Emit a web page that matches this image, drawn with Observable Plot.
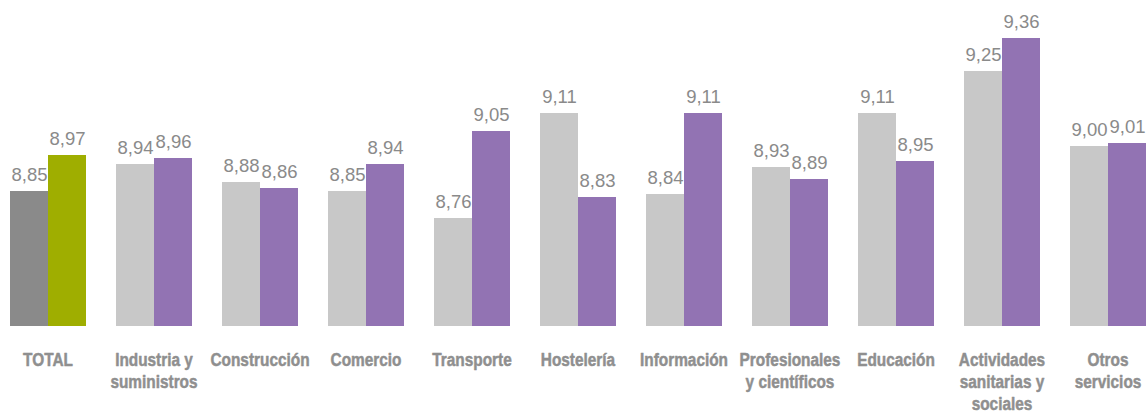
<!DOCTYPE html>
<html>
<head>
<meta charset="utf-8">
<script src="https://cdn.jsdelivr.net/npm/d3@7"></script>
<script src="https://cdn.jsdelivr.net/npm/@observablehq/plot@0.6"></script>
<style>
  html, body { margin: 0; padding: 0; background: #ffffff; }
  #chart svg { display: block; }
</style>
</head>
<body>
<div id="chart"></div>
<script>
const categories = ["TOTAL", "Industria y suministros", "Construcción", "Comercio", "Transporte", "Hostelería", "Información", "Profesionales y científicos", "Educación", "Actividades sanitarias y sociales", "Otros servicios"];
const categoryLabels = ["TOTAL", "Industria y\nsuministros", "Construcción", "Comercio", "Transporte", "Hostelería", "Información", "Profesionales\ny científicos", "Educación", "Actividades\nsanitarias y\nsociales", "Otros\nservicios"];
const seriesNames = ["A", "B"];
const valuesA = [8.85, 8.94, 8.88, 8.85, 8.76, 9.11, 8.84, 8.93, 9.11, 9.25, 9.00];
const valuesB = [8.97, 8.96, 8.86, 8.94, 9.05, 8.83, 9.11, 8.89, 8.95, 9.36, 9.01];
const colorKeys = ["totalA", "totalB", "A", "B"];
const colorValues = ["#8a8a8a", "#9fae00", "#c8c8c8", "#9273b3"];

const rows = [];
categories.forEach((c, i) => {
  const isTotal = c === "TOTAL";
  rows.push({cat: c, series: "A", value: valuesA[i], key: isTotal ? "totalA" : "A"});
  rows.push({cat: c, series: "B", value: valuesB[i], key: isTotal ? "totalB" : "B"});
});
const labelRows = categories.map((c, i) => ({cat: c, label: categoryLabels[i]}));

const fmt = d3.formatLocale({decimal: ",", thousands: ".", grouping: [3], currency: ["", "€"]}).format(".2f");

const chart = Plot.plot({
  width: 1146,
  height: 414,
  marginLeft: 9,
  marginRight: 0,
  marginTop: 0,
  marginBottom: 0,
  fx: {domain: categories, paddingInner: 0.274, paddingOuter: 0, axis: null},
  x: {domain: seriesNames, padding: 0, axis: null},
  y: {domain: [8.4, 9.36], range: [326, 38], axis: null},
  color: {domain: colorKeys, range: colorValues},
  style: {fontFamily: "'Liberation Sans', Arial, sans-serif", overflow: "visible"},
  marks: [
    Plot.barY(rows, {fx: "cat", x: "series", y1: 8.4, y2: "value", fill: "key", inset: 0}),
    Plot.text(rows, {fx: "cat", x: "series", y: "value", text: d => fmt(d.value), lineAnchor: "bottom", dy: -11, fill: "#8a8a8a", fontSize: 18.5, fontFamily: "'Liberation Sans', Arial, sans-serif"}),
    Plot.text(labelRows, {fx: "cat", y: 8.4, text: "label", lineAnchor: "top", dy: 24, lineHeight: 1.16, fill: "#8f8f8f", stroke: "#8f8f8f", strokeWidth: 0.5, fontSize: 19, fontWeight: "bold", fontFamily: "'Liberation Sans', Arial, sans-serif"})
  ]
});
// condense the category labels horizontally (the reference uses a condensed bold face)
const textGroups = chart.querySelectorAll('g[aria-label="text"]');
const catGroup = textGroups[textGroups.length - 1];
catGroup.querySelectorAll("text").forEach(t => {
  const tr = t.getAttribute("transform") || "";
  t.setAttribute("transform", (tr + " scale(0.81,1)").trim());
});
document.getElementById("chart").appendChild(chart);
</script>
</body>
</html>
